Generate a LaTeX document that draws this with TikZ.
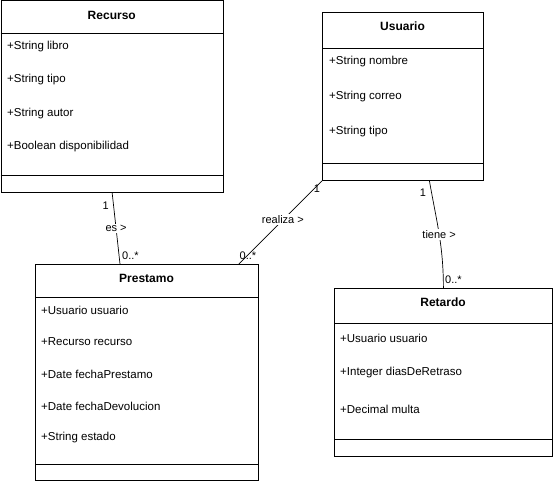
\documentclass[tikz,border=0pt]{standalone}
\usepackage{fontspec}
\setmainfont{Liberation Sans}
\usetikzlibrary{positioning}

\begin{document}
\begin{tikzpicture}[x=1pt, y=1pt,
	caja/.style={draw, line width=0.8pt, inner sep=0pt, anchor=north west},
	linea/.style={line width=0.8pt},
	titulo/.style={font=\fontsize{12}{14}\selectfont\bfseries},
	atributo/.style={anchor=west, inner sep=0pt, font=\fontsize{11.5}{13}\selectfont},
	asoc/.style={line width=0.7pt},
	etiqueta/.style={fill=white, inner sep=1.5pt, font=\fontsize{11}{13}\selectfont},
	mult/.style={inner sep=0pt, font=\fontsize{11}{13}\selectfont}]
	\useasboundingbox (0,0) rectangle (553,-481);

	% Recurso
	\node[caja, minimum width=222.5pt, minimum height=191.5pt] (recurso) at (0.5,-0.5) {};
	\draw[linea] (0.5,-33) -- (223,-33);
	\draw[linea] (0.5,-175) -- (223,-175);
	\node[titulo] (recursoT) at (111.75,-15) {Recurso};
	\node[atributo] (libro) at (7,-47) {+String libro};
	\node[atributo] (tipoR) at (7,-80) {+String tipo};
	\node[atributo] (autor) at (7,-114) {+String autor};
	\node[atributo] (dispo) at (7,-147) {+Boolean disponibilidad};

	% Usuario
	\node[caja, minimum width=161pt, minimum height=168pt] (usuario) at (322,-12) {};
	\draw[linea] (322,-48) -- (483,-48);
	\draw[linea] (322,-163) -- (483,-163);
	\node[titulo] (usuarioT) at (402.5,-26) {Usuario};
	\node[atributo] (nombre) at (329,-62) {+String nombre};
	\node[atributo] (correo) at (329,-97) {+String correo};
	\node[atributo] (tipoU) at (329,-132) {+String tipo};

	% Prestamo
	\node[caja, minimum width=223pt, minimum height=216pt] (prestamo) at (35,-264) {};
	\draw[linea] (35,-297) -- (258,-297);
	\draw[linea] (35,-464) -- (258,-464);
	\node[titulo] (prestamoT) at (146.5,-278) {Prestamo};
	\node[atributo] (usuarioP) at (41,-310) {+Usuario usuario};
	\node[atributo] (recursoP) at (41,-342) {+Recurso recurso};
	\node[atributo] (fechaP) at (41,-374) {+Date fechaPrestamo};
	\node[atributo] (fechaD) at (41,-406) {+Date fechaDevolucion};
	\node[atributo] (estado) at (41,-438) {+String estado};

	% Retardo
	\node[caja, minimum width=218pt, minimum height=168pt] (retardo) at (334,-288) {};
	\draw[linea] (334,-323) -- (552,-323);
	\draw[linea] (334,-439) -- (552,-439);
	\node[titulo] (retardoT) at (443,-302) {Retardo};
	\node[atributo] (usuarioR) at (340,-338) {+Usuario usuario};
	\node[atributo] (dias) at (340,-373) {+Integer diasDeRetraso};
	\node[atributo] (multa) at (340,-409) {+Decimal multa};

	% asociaciones
	\draw[asoc] (recurso.south) -- ([xshift=85pt]prestamo.north west)
		node[etiqueta, pos=0.5] (es) {es >};
	\draw[asoc] (usuario.south west) -- ([xshift=-20pt]prestamo.north east)
		node[etiqueta, pos=0.47] (realiza) {realiza >};
	\draw[asoc] ([xshift=26.5pt]usuario.south) to[out=-80, in=90]
		node[etiqueta, pos=0.5] (tiene) {tiene >} (retardo.north);

	% multiplicidades
	\node[mult, anchor=east] (m1) at (109,-206) {1};
	\node[mult, anchor=west] (m2) at (122,-256) {0..*};
	\node[mult] (m3) at (317,-189) {1};
	\node[mult] (m4) at (248,-256) {0..*};
	\node[mult] (m5) at (423,-193) {1};
	\node[mult, anchor=west] (m6) at (445,-280) {0..*};
\end{tikzpicture}
\end{document}
